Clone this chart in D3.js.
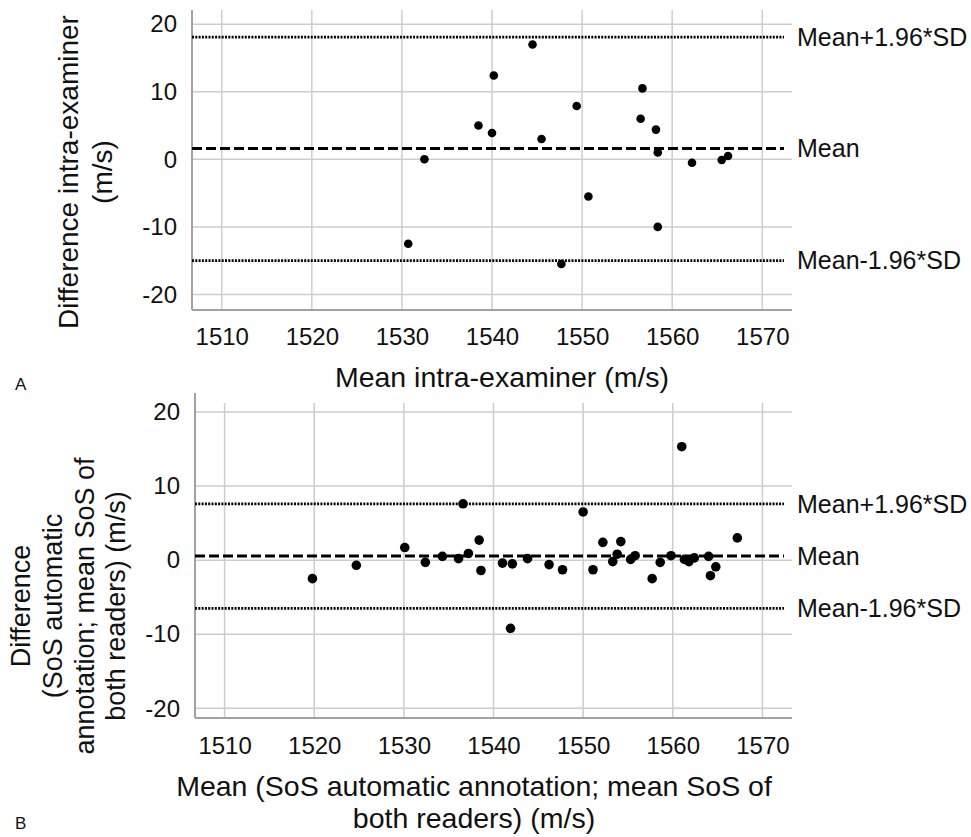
<!DOCTYPE html>
<html>
<head>
<meta charset="utf-8">
<script src="https://cdn.jsdelivr.net/npm/d3@7"></script>
<style>
  body { margin: 0; background: #fff; }
  svg { font-family: "Liberation Sans", Arial, sans-serif; fill: #111; }
  .grid line { stroke: #cdcdcd; stroke-width: 1.5; }
  .axis_line { stroke: #a2a2a2; stroke-width: 2; }
  .tick text { font-size: 24px; fill: #111; }
</style>
</head>
<body>
<div id="chart"></div>
<script>
// Data.
var xTicks = [1510, 1520, 1530, 1540, 1550, 1560, 1570];
var yTicks = [-20, -10, 0, 10, 20];
var xDomain = [1506.7, 1573.3];

// Panel A: intra-examiner.
var meanA = [1530.7, 1532.5, 1538.5, 1540.0, 1540.2, 1544.5, 1545.5, 1547.7, 1549.4,
             1550.7, 1556.5, 1556.7, 1558.2, 1558.4, 1558.4, 1562.2, 1565.5, 1566.2];
var diffA = [-12.5, 0.0, 5.0, 3.9, 12.4, 17.0, 3.0, -15.5, 7.9,
             -5.5, 6.0, 10.5, 4.4, 1.0, -10.0, -0.5, -0.1, 0.5];
var limitsA = [18.1, 1.6, -15.0];

// Panel B: automatic annotation vs both readers.
var meanB = [1519.8, 1524.7, 1530.1, 1532.4, 1534.3, 1536.1, 1536.6, 1537.2, 1538.4,
             1538.6, 1541.0, 1541.9, 1542.1, 1543.8, 1546.2, 1547.7, 1550.0, 1551.1,
             1552.2, 1553.3, 1553.8, 1554.2, 1555.3, 1555.8, 1557.7, 1558.6, 1559.8,
             1561.0, 1561.3, 1561.8, 1562.4, 1564.0, 1564.2, 1564.8, 1567.2];
var diffB = [-2.5, -0.7, 1.7, -0.3, 0.5, 0.2, 7.6, 0.9, 2.7,
             -1.4, -0.4, -9.2, -0.5, 0.2, -0.6, -1.3, 6.5, -1.3,
             2.4, -0.2, 0.8, 2.5, 0.1, 0.6, -2.5, -0.3, 0.6,
             15.3, 0.1, -0.2, 0.3, 0.5, -2.1, -0.9, 3.0];
var limitsB = [7.6, 0.55, -6.5];

var limitLabels = ["Mean+1.96*SD", "Mean", "Mean-1.96*SD"];

var svg = d3.select("#chart").append("svg")
  .attr("width", 971)
  .attr("height", 837);

function drawPanel(p) {
  var xScale = d3.scaleLinear().domain(xDomain).range([p.left, p.right]);
  var yScale = d3.scaleLinear().domain(p.yDomain).range([p.bottom, p.top]);
  var g = svg.append("g");

  // Gridlines.
  var grid = g.append("g").attr("class", "grid");
  grid.selectAll(".vgrid").data(xTicks).enter().append("line")
    .attr("x1", d => xScale(d)).attr("x2", d => xScale(d))
    .attr("y1", p.top).attr("y2", p.bottom);
  grid.selectAll(".hgrid").data(yTicks).enter().append("line")
    .attr("x1", p.left).attr("x2", p.right)
    .attr("y1", d => yScale(d)).attr("y2", d => yScale(d));

  // Axis lines.
  g.append("line").attr("class", "axis_line")
    .attr("x1", p.left).attr("x2", p.left)
    .attr("y1", p.axisTop).attr("y2", p.bottom);
  g.append("line").attr("class", "axis_line")
    .attr("x1", p.left).attr("x2", p.right)
    .attr("y1", p.bottom).attr("y2", p.bottom);

  // Tick labels only, the lines come from the grid above.
  g.append("g")
    .attr("transform", "translate(0," + p.bottom + ")")
    .call(d3.axisBottom(xScale).tickValues(xTicks).tickSize(0).tickPadding(p.xPad).tickFormat(d3.format("d")))
    .call(a => a.select(".domain").remove());
  g.append("g")
    .attr("transform", "translate(" + p.left + ",0)")
    .call(d3.axisLeft(yScale).tickValues(yTicks).tickSize(0).tickPadding(15).tickFormat(d => d < 0 ? "-" + Math.abs(d) : d))
    .call(a => a.select(".domain").remove());

  // Mean and limits of agreement.
  var lineEnd = p.right - 8;
  g.selectAll(".limit").data(p.limits).enter().append("line")
    .attr("x1", p.left).attr("x2", lineEnd)
    .attr("y1", d => yScale(d)).attr("y2", d => yScale(d))
    .attr("stroke", "#000")
    .attr("stroke-width", (d, i) => i == 1 ? 3 : 2.8)
    .attr("stroke-dasharray", (d, i) => i == 1 ? "10,4" : "2,1.3");
  g.selectAll(".limit_label").data(p.limits).enter().append("text")
    .attr("x", p.right + 5)
    .attr("y", d => yScale(d))
    .attr("dy", "0.35em")
    .style("font-size", "25px")
    .text((d, i) => limitLabels[i]);

  // Points.
  g.selectAll(".dot").data(p.means).enter().append("circle")
    .attr("cx", d => xScale(d))
    .attr("cy", (d, i) => yScale(p.diffs[i]))
    .attr("r", p.r)
    .attr("fill", "#000");

  // Y-axis title, rotated, one text per line.
  p.yTitle.forEach(function(t, i) {
    g.append("text")
      .attr("transform", "translate(" + p.yTitleX[i] + "," + p.yTitleY + ") rotate(-90)")
      .style("text-anchor", "middle")
      .style("font-size", p.yTitleSize)
      .text(t);
  });

  // X-axis title.
  p.xTitle.forEach(function(t, i) {
    g.append("text")
      .attr("x", p.xTitleX)
      .attr("y", p.xTitleY[i])
      .style("text-anchor", "middle")
      .style("font-size", "28.5px")
      .text(t);
  });

  g.append("text")
    .attr("x", 15).attr("y", p.letterY)
    .style("font-size", "17px")
    .text(p.letter);
}

drawPanel({
  left: 192, right: 792, top: 10, axisTop: 10, bottom: 310,
  yDomain: [-22.3, 22.1], xPad: 18,
  means: meanA, diffs: diffA, limits: limitsA, r: 4.3,
  yTitle: ["Difference intra-examiner", "(m/s)"], yTitleX: [78, 112], yTitleY: 172, yTitleSize: "28px",
  xTitle: ["Mean intra-examiner (m/s)"], xTitleX: 502, xTitleY: [387],
  letter: "A", letterY: 390
});

drawPanel({
  left: 195, right: 792, top: 403, axisTop: 393, bottom: 718,
  yDomain: [-21.3, 21.2], xPad: 19,
  means: meanB, diffs: diffB, limits: limitsB, r: 4.8,
  yTitle: ["Difference", "(SoS automatic", "annotation; mean SoS of", "both readers) (m/s)"],
  yTitleX: [30, 62, 94, 125], yTitleY: 606, yTitleSize: "27px",
  xTitle: ["Mean (SoS automatic annotation; mean SoS of", "both readers) (m/s)"], xTitleX: 474, xTitleY: [796, 828],
  letter: "B", letterY: 829
});
</script>
</body>
</html>
